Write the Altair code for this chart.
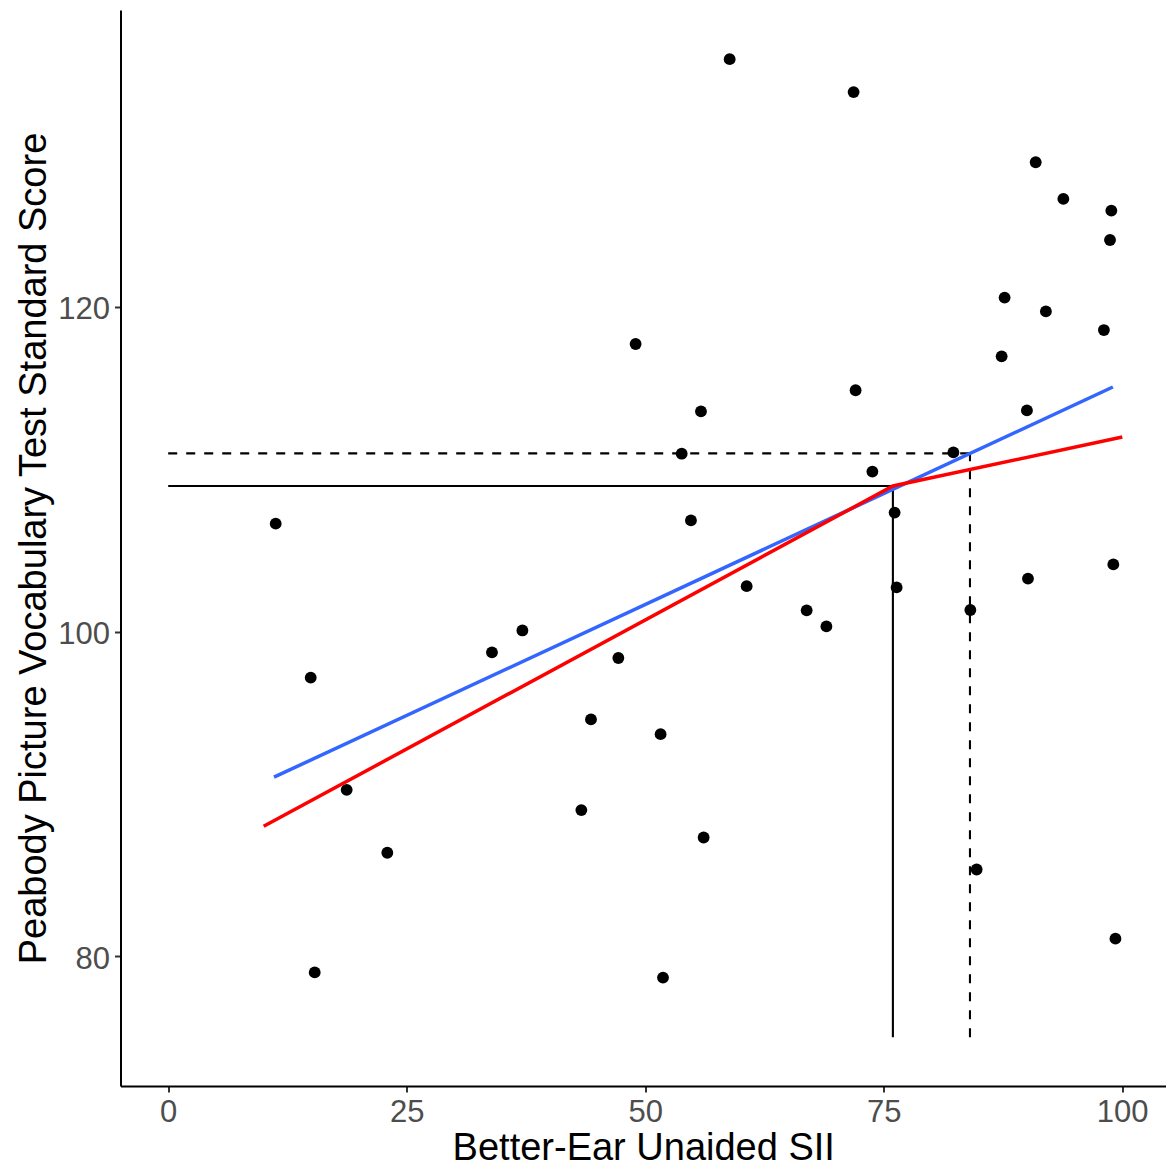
import altair as alt
import pandas as pd

# Better-ear unaided SII (x) and PPVT standard score (y) for each child
sii = [11.27, 14.94, 15.36, 18.71, 22.97, 33.94, 37.13, 43.31, 44.32, 47.19,
       49.0, 51.62, 51.87, 53.83, 54.8, 55.85, 56.13, 58.86, 60.64, 66.93,
       69.0, 71.85, 72.06, 73.82, 76.15, 76.36, 82.31, 84.09, 84.75, 87.37,
       87.68, 90.02, 90.13, 90.94, 92.01, 93.84, 98.09, 98.73, 98.87, 99.08, 99.3]
ppvt = [106.65, 97.16, 79.0, 90.25, 86.37, 98.72, 100.07, 89.0, 94.59, 98.37,
        117.72, 93.68, 78.68, 110.96, 106.85, 113.57, 87.31, 135.27, 102.8, 101.31,
        100.32, 133.24, 114.87, 109.86, 107.33, 102.72, 111.04, 101.33, 85.34, 116.96,
        120.58, 113.63, 103.26, 128.92, 119.73, 126.66, 118.58, 124.13, 125.94, 104.14, 81.08]

# linear fit (blue) and broken-stick fit (red)
blue_x = [11.09, 99.03]
blue_y = [91.03, 115.07]
red_x = [10.01, 75.97, 100.02]
red_y = [88.0, 108.97, 111.99]

# reference lines: breakpoint (solid) and second cut-off (dashed)
solid_x, solid_y = 75.97, 108.97
dashed_x, dashed_y = 84.05, 110.98
x_start, y_floor = 0, 75

x_ticks = [0, 25, 50, 75, 100]
y_ticks = [80, 100, 120]

W, H = 1045.5, 1076

pts = pd.DataFrame({"x": sii, "y": ppvt})
blue = pd.DataFrame({"x": blue_x, "y": blue_y})
red = pd.DataFrame({"x": red_x, "y": red_y})
solid = pd.DataFrame({"x": [x_start, solid_x], "x2": [solid_x, solid_x],
                      "y": [solid_y, y_floor], "y2": [solid_y, solid_y]})
dashed = pd.DataFrame({"x": [x_start, dashed_x], "x2": [dashed_x, dashed_x],
                       "y": [dashed_y, y_floor], "y2": [dashed_y, dashed_y]})

xs = alt.Scale(domain=[-5, 104.6], nice=False, zero=False)
ys = alt.Scale(domain=[72, 138.3], nice=False, zero=False)

xax = alt.Axis(values=x_ticks, title="Better-Ear Unaided SII",
               titleX=W / 2, titleY=73.3, titleBaseline="alphabetic",
               titleAlign="center", labelPadding=5)
yax = alt.Axis(values=y_ticks, title="Peabody Picture Vocabulary Test Standard Score",
               titleX=-75, titleY=H / 2, titleAngle=270, titleBaseline="alphabetic",
               titleAlign="center", labelPadding=5, labelOffset=3)

base_x = alt.X("x:Q", scale=xs, axis=xax)
base_y = alt.Y("y:Q", scale=ys, axis=yax)

solid_layer = alt.Chart(solid).mark_rule(color="black", strokeWidth=2.1).encode(
    x=base_x, x2="x2:Q", y=base_y, y2="y2:Q")
dashed_layer = alt.Chart(dashed).mark_rule(color="black", strokeWidth=2.1, strokeDash=[9, 9]).encode(
    x=base_x, x2="x2:Q", y=base_y, y2="y2:Q")
points = alt.Chart(pts).mark_circle(color="black", opacity=1, size=140).encode(
    x=base_x, y=base_y)
blue_layer = alt.Chart(blue).mark_line(color="#3366FF", strokeWidth=3.5).encode(
    x=base_x, y=base_y)
red_layer = alt.Chart(red).mark_line(color="#FF0000", strokeWidth=3.5).encode(
    x=base_x, y=base_y)

chart = alt.layer(solid_layer, dashed_layer, points, blue_layer, red_layer).properties(
    width=W, height=H,
    autosize=alt.AutoSizeParams(type="none"),
    padding={"left": 120.5, "top": 10, "right": 0, "bottom": 82},
    background="white",
).configure_view(stroke=None).configure_axis(
    grid=False,
    domainColor="black", domainWidth=2,
    tickColor="#333333", tickWidth=2, tickSize=6,
    labelFont="Liberation Sans", labelFontSize=31, labelColor="#4D4D4D",
    titleFont="Liberation Sans", titleFontSize=38, titleColor="black",
    titleFontWeight="normal",
)

chart.save("out.html", embed_options={"renderer": "svg", "actions": False})
